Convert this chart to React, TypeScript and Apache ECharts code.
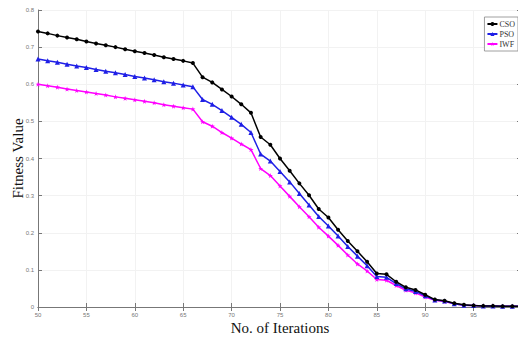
import React, { useEffect, useRef } from "react";
import * as echarts from "echarts";

const iterations = Array.from({ length: 51 }, (_, i) => 50 + i);

const csoValues = [
  0.742, 0.737, 0.731, 0.726, 0.721, 0.715, 0.710, 0.705, 0.700, 0.694,
  0.689, 0.684, 0.679, 0.673, 0.668, 0.663, 0.657, 0.619, 0.605, 0.586,
  0.567, 0.546, 0.523, 0.458, 0.437, 0.400, 0.367, 0.333, 0.301, 0.264,
  0.241, 0.208, 0.178, 0.150, 0.122, 0.090, 0.088, 0.068, 0.053, 0.046,
  0.033, 0.020, 0.017, 0.010, 0.006, 0.004, 0.003, 0.003, 0.002, 0.002,
  0.002,
];

const psoValues = [
  0.668, 0.663, 0.659, 0.654, 0.649, 0.645, 0.640, 0.635, 0.631, 0.626,
  0.621, 0.617, 0.612, 0.607, 0.603, 0.598, 0.593, 0.559, 0.546, 0.529,
  0.511, 0.492, 0.470, 0.412, 0.393, 0.365, 0.337, 0.306, 0.275, 0.244,
  0.218, 0.191, 0.163, 0.137, 0.111, 0.082, 0.080, 0.063, 0.049, 0.042,
  0.030, 0.019, 0.016, 0.009, 0.005, 0.004, 0.003, 0.003, 0.002, 0.002,
  0.002,
];

const iwfValues = [
  0.600, 0.596, 0.592, 0.587, 0.583, 0.579, 0.575, 0.571, 0.566, 0.562,
  0.558, 0.554, 0.550, 0.545, 0.541, 0.537, 0.533, 0.499, 0.487, 0.470,
  0.455, 0.439, 0.424, 0.373, 0.354, 0.326, 0.298, 0.270, 0.243, 0.215,
  0.191, 0.166, 0.140, 0.116, 0.097, 0.074, 0.072, 0.058, 0.045, 0.038,
  0.027, 0.018, 0.015, 0.009, 0.005, 0.004, 0.003, 0.003, 0.002, 0.002,
  0.002,
];

const seriesNames = ["CSO", "PSO", "IWF"];
const seriesColors = ["#000000", "#1f1fe6", "#ff00ff"];
const starPath =
  "path://M5,0 L6.2,3.8 L10,3.8 L7,6.2 L8.1,10 L5,7.6 L1.9,10 L3,6.2 L0,3.8 L3.8,3.8 Z";
const seriesSymbols = ["circle", "triangle", starPath];
const seriesSymbolSizes = [4, 5, 5];

export default function App() {
  const ref = useRef<HTMLDivElement>(null);

  useEffect(() => {
    if (!ref.current) return;
    const chart = echarts.init(ref.current, null, { renderer: "svg" });
    const allValues = [csoValues, psoValues, iwfValues];
    const tickLabelStyle = {
      fontSize: 6,
      color: "#777",
      fontFamily: "Liberation Sans",
    };
    chart.setOption({
      animation: false,
      backgroundColor: "#ffffff",
      grid: {
        left: 38,
        right: -4,
        top: 10,
        bottom: 35,
        containLabel: false,
        outerBoundsMode: "none",
      },
      legend: {
        data: seriesNames,
        orient: "vertical",
        right: 0,
        top: 17,
        itemWidth: 10,
        itemHeight: 5,
        itemGap: 2,
        padding: [3, 3, 3, 2],
        borderColor: "#888",
        borderWidth: 0.8,
        backgroundColor: "#fff",
        textStyle: {
          fontSize: 8,
          fontFamily: "Liberation Serif",
          color: "#333",
          padding: [0, 0, 0, -3],
        },
      },
      xAxis: [
        {
          type: "value",
          min: 50,
          max: 100,
          interval: 5,
          name: "No. of Iterations",
          nameLocation: "middle",
          nameGap: 13,
          nameMoveOverlap: false,
          nameTextStyle: {
            fontSize: 15,
            fontFamily: "Liberation Serif",
            color: "#111",
          },
          axisLine: { show: true, lineStyle: { color: "#777", width: 1 } },
          axisTick: { show: true, inside: true, length: 4, lineStyle: { color: "#777" } },
          axisLabel: {
            ...tickLabelStyle,
            margin: 5,
            formatter: (v: number) => (v >= 100 ? "" : String(v)),
          },
          splitLine: { show: true, lineStyle: { color: "#f2f2f2", width: 1 } },
        },
        {
          type: "value",
          position: "top",
          min: 50,
          max: 100,
          interval: 5,
          axisLine: { show: true, lineStyle: { color: "#777", width: 1 } },
          axisTick: { show: true, inside: true, length: 4, lineStyle: { color: "#777" } },
          axisLabel: { show: false },
          splitLine: { show: false },
        },
      ],
      yAxis: [
        {
          type: "value",
          min: 0,
          max: 0.8,
          interval: 0.1,
          name: "Fitness Value",
          nameLocation: "middle",
          nameGap: 13,
          nameMoveOverlap: false,
          nameTextStyle: {
            fontSize: 15,
            fontFamily: "Liberation Serif",
            color: "#111",
          },
          axisLine: { show: true, lineStyle: { color: "#777", width: 1 } },
          axisTick: { show: true, inside: true, length: 4, lineStyle: { color: "#777" } },
          axisLabel: { ...tickLabelStyle, margin: 4 },
          splitLine: { show: true, lineStyle: { color: "#f2f2f2", width: 1 } },
        },
        {
          type: "value",
          position: "right",
          min: 0,
          max: 0.8,
          interval: 0.1,
          axisLine: { show: true, lineStyle: { color: "#777", width: 1 } },
          axisTick: { show: true, inside: true, length: 5, lineStyle: { color: "#777" } },
          axisLabel: { show: false },
          splitLine: { show: false },
        },
      ],
      series: seriesNames.map((name, si) => ({
        name,
        type: "line",
        xAxisIndex: 0,
        yAxisIndex: 0,
        data: iterations.map((it, i) => [it, allValues[si][i]]),
        symbol: seriesSymbols[si],
        symbolSize: seriesSymbolSizes[si],
        showAllSymbol: true,
        clip: false,
        lineStyle: { color: seriesColors[si], width: 1.5 },
        itemStyle: { color: seriesColors[si] },
        z: 3 - si,
      })),
    });
    return () => chart.dispose();
  }, []);

  return (
    <div
      ref={ref}
      style={{ position: "fixed", left: 0, top: 0, width: 518, height: 342 }}
    />
  );
}
